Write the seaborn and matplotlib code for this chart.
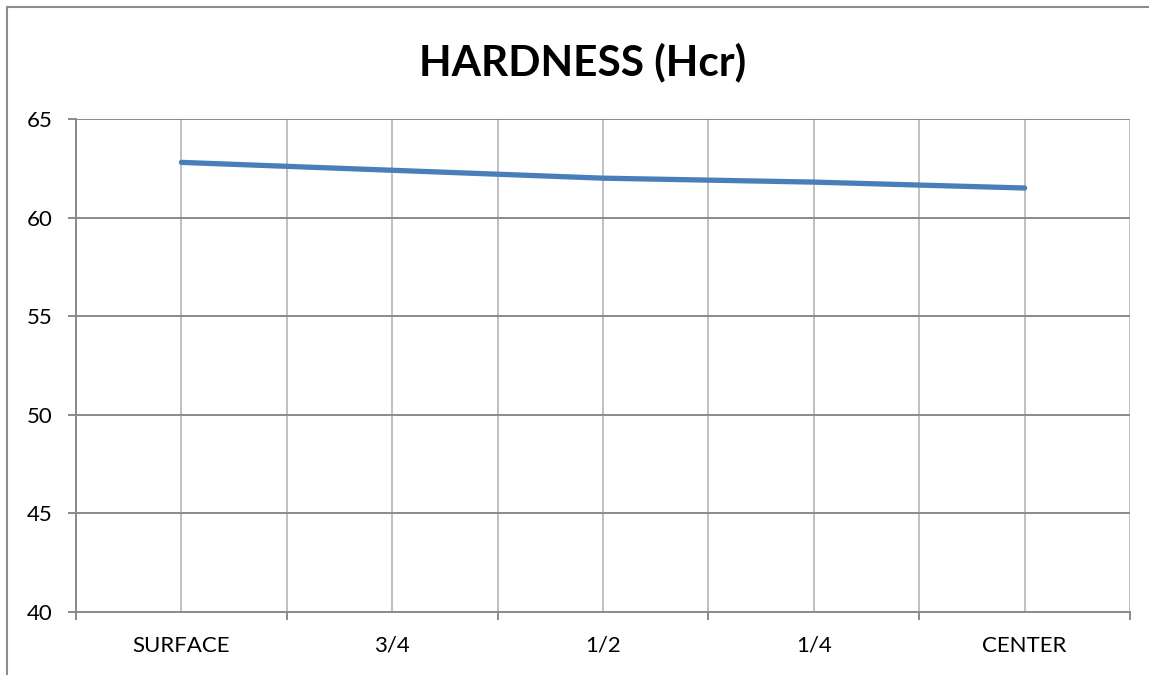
import pandas as pd
import numpy as np
import matplotlib
matplotlib.use("Agg")
import matplotlib.pyplot as plt
import seaborn as sns
from matplotlib.lines import Line2D
from matplotlib.ticker import FixedLocator

# Hardness profile
positions = ["SURFACE", "3/4", "1/2", "1/4", "CENTER"]
hardness = [62.8, 62.4, 62.0, 61.8, 61.5]
y_ticks = [40, 45, 50, 55, 60, 65]

df = pd.DataFrame({"position": positions, "hardness": hardness})

sns.set_theme(style="white")
plt.rcParams["font.family"] = ["Lato", "DejaVu Sans"]

fig = plt.figure(figsize=(11.49, 6.75), dpi=100)
ax = fig.add_axes([76 / 1149, 1 - 612 / 675, (1130 - 76) / 1149, (612 - 119) / 675])

sns.lineplot(data=df, x="position", y="hardness", sort=False, ax=ax,
             color="#4A7EBB", linewidth=3.8, solid_capstyle="round", zorder=5)

ax.set_ylim(40, 65)
ax.set_yticks(y_ticks)
ax.set_xlim(-0.5, len(positions) - 0.5)
ax.set_xticks(range(len(positions)))
ax.set_xticklabels(positions)
ax.xaxis.set_minor_locator(FixedLocator(np.arange(-0.5, len(positions), 1.0)))
ax.set_xlabel("")
ax.set_ylabel("")

# gridlines like the spreadsheet chart
ax.grid(axis="y", which="major", color="#8A8A8A", linewidth=1.4)
ax.grid(axis="x", which="both", color="#C0C0C0", linewidth=1.4)
ax.set_axisbelow(True)

for side in ["top", "right"]:
    ax.spines[side].set_visible(False)
ax.spines["left"].set_color("#8A8A8A")
ax.spines["left"].set_linewidth(1.4)
ax.spines["bottom"].set_color("#8A8A8A")
ax.spines["bottom"].set_linewidth(1.4)

ax.tick_params(axis="y", which="major", left=True, length=6, width=1.4,
               color="#8A8A8A", pad=11, labelsize=16, labelcolor="black")
ax.tick_params(axis="x", which="major", bottom=True, length=0, pad=17,
               labelsize=16, labelcolor="black")
ax.tick_params(axis="x", which="minor", bottom=True, length=6, width=1.4,
               color="#8A8A8A")

fig.text(583 / 1149, 1 - 62 / 675, "HARDNESS (Hcr)", ha="center", va="center",
         fontsize=30.5, fontweight="bold", color="black")

# outer chart frame (top and left edges visible in the reference)
fig.add_artist(Line2D([7 / 1149, 7 / 1149], [0, 1 - 7 / 675], transform=fig.transFigure,
                      color="#8C8C8C", linewidth=1.5))
fig.add_artist(Line2D([7 / 1149, 1], [1 - 7 / 675, 1 - 7 / 675], transform=fig.transFigure,
                      color="#8C8C8C", linewidth=1.5))

fig.savefig("out.png", dpi=100, facecolor="white")
